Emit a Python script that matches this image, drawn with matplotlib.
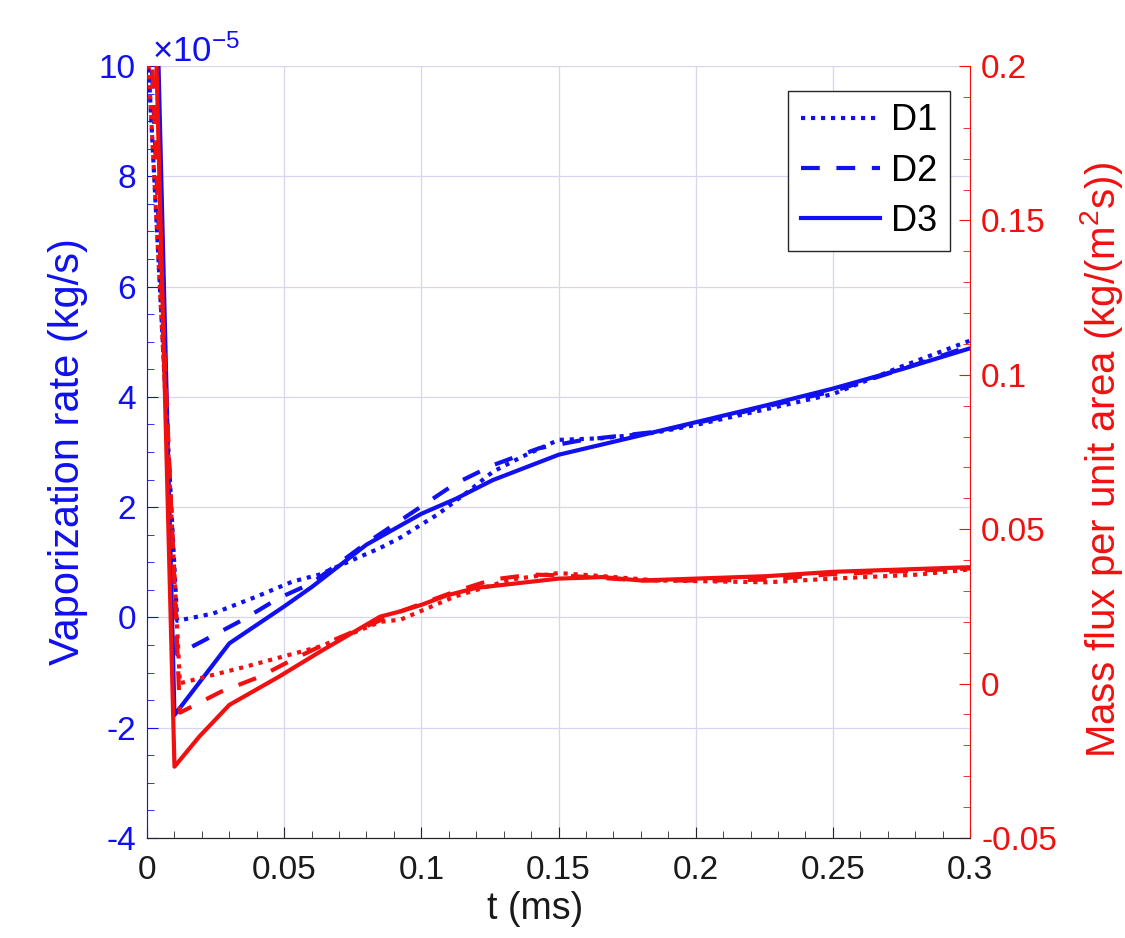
import matplotlib
matplotlib.use("Agg")
import matplotlib.pyplot as plt
from matplotlib.ticker import MultipleLocator, FormatStrFormatter
from matplotlib.lines import Line2D

plt.rcParams['font.family'] = ['Liberation Sans', 'DejaVu Sans']
plt.rcParams['mathtext.fontset'] = 'custom'
plt.rcParams['mathtext.rm'] = 'Liberation Sans'
plt.rcParams['mathtext.it'] = 'Liberation Sans:italic'
plt.rcParams['axes.unicode_minus'] = False

# vaporization rate (x1e-5 kg/s)
t_rate_d1 = [0, 0.011, 0.024, 0.04, 0.053, 0.063, 0.0725, 0.085, 0.0924, 0.106, 0.1175,
             0.126, 0.1365, 0.15, 0.166, 0.185, 0.2, 0.226, 0.25, 0.275, 0.3]
rate_d1 = [10.5, -0.06, 0.07, 0.38, 0.65, 0.78, 0.99, 1.26, 1.45, 1.87, 2.3,
           2.64, 2.91, 3.22, 3.25, 3.35, 3.49, 3.78, 4.05, 4.55, 5.02]
t_rate_d2 = [0, 0.011, 0.021, 0.035, 0.048, 0.06, 0.08, 0.0924, 0.1125, 0.126, 0.143,
             0.159, 0.186, 0.206, 0.226, 0.25, 0.275, 0.3]
rate_d2 = [12.0, -0.67, -0.41, -0.04, 0.35, 0.62, 1.35, 1.76, 2.43, 2.76, 3.07,
           3.22, 3.37, 3.59, 3.83, 4.1, 4.5, 4.92]
t_rate_d3 = [0, 0.01, 0.03, 0.05, 0.06, 0.08, 0.1, 0.1125, 0.126, 0.15, 0.173,
             0.2, 0.226, 0.25, 0.275, 0.3]
rate_d3 = [18.5, -1.77, -0.47, 0.2, 0.55, 1.32, 1.88, 2.15, 2.49, 2.95, 3.22,
           3.54, 3.85, 4.15, 4.5, 4.88]

# mass flux per unit area (kg/(m^2 s))
t_flux_d1 = [0, 0.012, 0.036, 0.063, 0.085, 0.0924, 0.1125, 0.1326, 0.15, 0.166,
             0.186, 0.2, 0.226, 0.25, 0.281, 0.3]
flux_d1 = [0.21, 0.0001, 0.0055, 0.012, 0.02, 0.0207, 0.0283, 0.0337, 0.0358, 0.0348,
           0.0334, 0.0332, 0.0328, 0.034, 0.0353, 0.037]
t_flux_d2 = [0, 0.012, 0.027, 0.041, 0.054, 0.068, 0.085, 0.0924, 0.1125, 0.126,
             0.14, 0.15, 0.18, 0.206, 0.226, 0.25, 0.3]
flux_d2 = [0.24, -0.0094, -0.0026, 0.0022, 0.0082, 0.0141, 0.0205, 0.0234, 0.0299, 0.0337,
           0.0353, 0.0351, 0.0334, 0.0334, 0.0337, 0.0355, 0.0373]
t_flux_d3 = [0, 0.01, 0.019, 0.03, 0.048, 0.063, 0.085, 0.0924, 0.1, 0.109, 0.12,
             0.15, 0.166, 0.18, 0.2, 0.226, 0.25, 0.3]
flux_d3 = [0.32, -0.0269, -0.0172, -0.0069, 0.0022, 0.0103, 0.0217, 0.0234, 0.0255, 0.0285, 0.031,
           0.034, 0.0345, 0.0334, 0.034, 0.0348, 0.0362, 0.0377]

labels = ['D1', 'D2', 'D3']
blue = '#1010f0'
red = '#f01010'
lw = 3.0
dot = dict(linestyle=(0, (1.0, 1.4)), dash_capstyle='butt')
dash = dict(linestyle=(0, (4.5, 4.0)), dash_capstyle='butt')
solid = dict(linestyle='-')
styles = [dot, dash, solid]

fig = plt.figure(figsize=(11.25, 9.38), dpi=100)
ax = fig.add_axes([0.1307, 0.1066, 0.7315, 0.823])
ax2 = ax.twinx()

for tt, vv, st in zip([t_rate_d1, t_rate_d2, t_rate_d3], [rate_d1, rate_d2, rate_d3], styles):
    ax.plot(tt, vv, color=blue, lw=lw, **st)
for tt, vv, st in zip([t_flux_d1, t_flux_d2, t_flux_d3], [flux_d1, flux_d2, flux_d3], styles):
    ax2.plot(tt, vv, color=red, lw=lw, **st)

ax.set_xlim(0, 0.3)
ax.set_ylim(-4, 10)
ax2.set_ylim(-0.05, 0.2)

ax.xaxis.set_major_locator(MultipleLocator(0.05))
ax.xaxis.set_minor_locator(MultipleLocator(0.01))
ax.xaxis.set_major_formatter(FormatStrFormatter('%g'))
ax.yaxis.set_major_locator(MultipleLocator(2))
ax.yaxis.set_minor_locator(MultipleLocator(0.5))
ax.yaxis.set_major_formatter(FormatStrFormatter('%g'))
ax2.yaxis.set_major_locator(MultipleLocator(0.05))
ax2.yaxis.set_minor_locator(MultipleLocator(0.01))
ax2.yaxis.set_major_formatter(FormatStrFormatter('%g'))

ax.grid(True, which='major', color='#d6d6f2', lw=0.9)
ax.set_axisbelow(True)

fs_tick = 24
ax.tick_params(axis='x', which='both', direction='in', colors='#262626', labelsize=fs_tick, pad=12,
               labelcolor='#1a1a1a')
ax.tick_params(axis='x', which='major', length=8)
ax.tick_params(axis='x', which='minor', length=5)
ax.tick_params(axis='y', which='both', direction='in', colors=blue, labelsize=fs_tick, pad=8)
ax.tick_params(axis='y', which='major', length=8)
ax.tick_params(axis='y', which='minor', length=5)
ax2.tick_params(axis='y', which='both', direction='in', colors=red, labelsize=fs_tick, pad=8)
ax2.tick_params(axis='y', which='major', length=8)
ax2.tick_params(axis='y', which='minor', length=5)

for a in (ax, ax2):
    a.spines['top'].set_visible(False)
    a.spines['bottom'].set_color('#262626')
ax.spines['left'].set_color(blue)
ax.spines['right'].set_visible(False)
ax2.spines['left'].set_visible(False)
ax2.spines['right'].set_color(red)

ax.set_xlabel('t (ms)', fontsize=27, color='#1a1a1a')
ax.xaxis.set_label_coords(0.471, -0.068)
ax.set_ylabel('Vaporization rate (kg/s)', fontsize=30, color=blue)
ax.yaxis.set_label_coords(-0.0717, 0.5)
ax2.set_ylabel('Mass flux per unit area (kg/(m$^2$s))', fontsize=29, color=red)
ax2.yaxis.set_label_coords(1.131, 0.49)

ax.text(0.006, 1.005, r'$\times$10$^{\mathrm{-5}}$', transform=ax.transAxes, color=blue,
        fontsize=25, ha='left', va='baseline')

handles = [Line2D([], [], color=blue, lw=lw, **st) for st in styles]
leg = ax2.legend(handles, labels, loc='upper right', bbox_to_anchor=(0.976, 0.968),
                 borderaxespad=0, fontsize=26, fancybox=False, framealpha=1,
                 edgecolor='#262626', handlelength=2.2, handletextpad=0.3,
                 labelspacing=0.42, borderpad=0.35)
leg.get_frame().set_linewidth(1.0)

fig.savefig('out.png', dpi=100)
